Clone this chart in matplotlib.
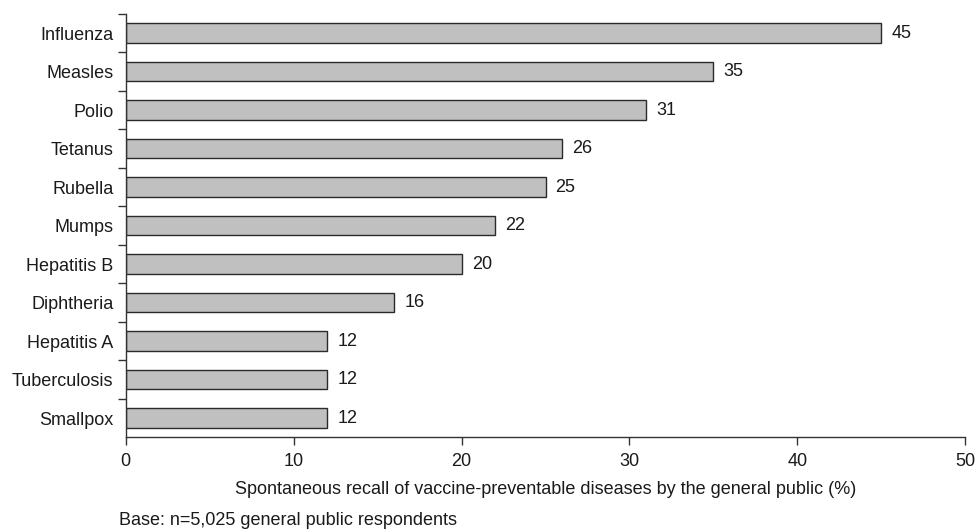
import numpy as np
import matplotlib.pyplot as plt

plt.rcParams['font.family'] = ['Liberation Sans', 'DejaVu Sans']

diseases = ["Influenza", "Measles", "Polio", "Tetanus", "Rubella", "Mumps",
            "Hepatitis B", "Diphtheria", "Hepatitis A", "Tuberculosis", "Smallpox"]
recall = [45, 35, 31, 26, 25, 22, 20, 16, 12, 12, 12]
x_ticks = [0, 10, 20, 30, 40, 50]

fig = plt.figure(figsize=(9.75, 5.3), dpi=100)
ax = fig.add_axes([0.129, 0.175, 0.861, 0.799])

positions = np.arange(len(diseases))
ax.barh(positions, recall, height=0.5, color='#c0c0c0', edgecolor='#2a2a2a', linewidth=1.0)

# value labels
for y, v in zip(positions, recall):
    ax.text(v + 0.6, y, str(v), ha='left', va='center', fontsize=13, color='#1a1a1a')

ax.set_ylim(len(diseases) - 0.5, -0.5)
ax.set_xlim(0, 50)
ax.set_yticks(positions)
ax.set_yticklabels(diseases)
ax.set_yticks(np.arange(-0.5, len(diseases) - 1), minor=True)
ax.tick_params(axis='y', which='major', length=0, pad=9, labelsize=13, labelcolor='#1a1a1a')
ax.tick_params(axis='y', which='minor', length=6, width=1, color='#333333')
ax.set_xticks(x_ticks)
ax.tick_params(axis='x', length=6, width=1, color='#333333', labelsize=13, labelcolor='#1a1a1a', pad=5)

for s in ['top', 'right']:
    ax.spines[s].set_visible(False)
for s in ['left', 'bottom']:
    ax.spines[s].set_color('#333333')
    ax.spines[s].set_linewidth(1)

ax.set_xlabel("Spontaneous recall of vaccine-preventable diseases by the general public (%)",
              fontsize=13, color='#1a1a1a', labelpad=8)
fig.text(0.122, 0.017, "Base: n=5,025 general public respondents", fontsize=13,
         color='#1a1a1a', ha='left', va='center')

fig.savefig("out.png", dpi=100)
